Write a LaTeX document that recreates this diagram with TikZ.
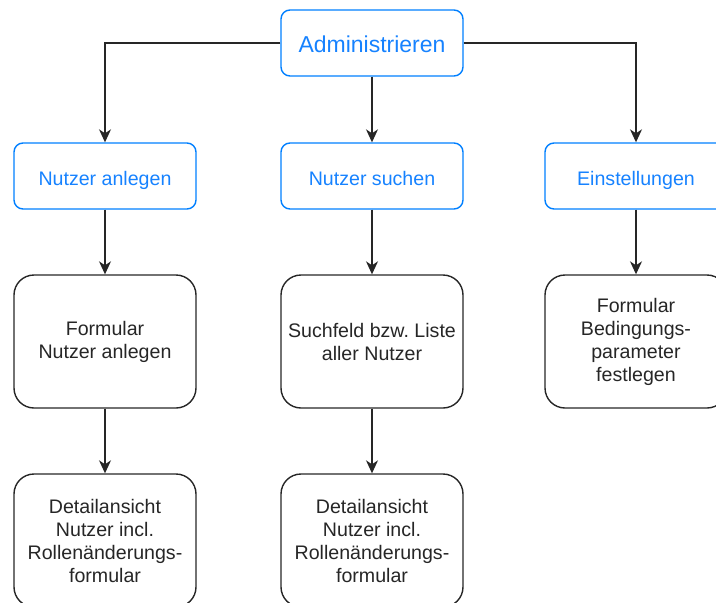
\documentclass[tikz,border=0pt]{standalone}
\usepackage{fontspec}
\setmainfont{Liberation Sans}
\usetikzlibrary{arrows.meta}

\definecolor{menublue}{RGB}{0,127,255}
\definecolor{menutext}{RGB}{22,130,255}

\tikzset{
  menu/.style={draw=menublue, line width=1.4pt, rounded corners=9pt, text=menutext,
    minimum width=182pt, minimum height=66pt, text height=20pt, text depth=2pt,
    align=center, font=\fontsize{19.6}{23}\selectfont},
  page/.style={draw=black!85, line width=1.4pt, rounded corners=20pt, text=black!85,
    minimum width=182pt, minimum height=133pt, align=center, font=\fontsize{19.6}{23}\selectfont},
  arr/.style={draw=black!85, line width=1.4pt, -{Stealth[length=13pt,width=12pt,inset=4pt]}}
}

\begin{document}
\begin{tikzpicture}[x=1pt,y=-1pt]
\path[use as bounding box, clip] (0,0) rectangle (716,603);

% Top menu
\node[menu, font=\fontsize{23}{27}\selectfont] (admin) at (372,43) {Administrieren};

% Second row
\node[menu] (anlegen) at (105,176) {Nutzer anlegen};
\node[menu] (suchen) at (372,176) {Nutzer suchen};
\node[menu] (einst) at (636,176) {Einstellungen};

% Pages
\node[page] (formanlegen) at (105,341.5) {Formular\\Nutzer anlegen};
\node[page] (suchfeld) at (372,341.5) {Suchfeld bzw.\ Liste\\aller Nutzer};
\node[page] (formparam) at (636,341.5) {Formular\\Bedingungs-\\parameter\\festlegen};
\node[page] (detail1) at (105,540.5) {Detailansicht\\Nutzer incl.\\Rollenänderungs-\\formular};
\node[page] (detail2) at (372,540.5) {Detailansicht\\Nutzer incl.\\Rollenänderungs-\\formular};

% Connectors
\draw[arr] (admin.west) -| (anlegen.north);
\draw[arr] (admin.south) -- (suchen.north);
\draw[arr] (admin.east) -| (einst.north);
\draw[arr] (anlegen.south) -- (formanlegen.north);
\draw[arr] (suchen.south) -- (suchfeld.north);
\draw[arr] (einst.south) -- (formparam.north);
\draw[arr] (formanlegen.south) -- (detail1.north);
\draw[arr] (suchfeld.south) -- (detail2.north);
\end{tikzpicture}
\end{document}
